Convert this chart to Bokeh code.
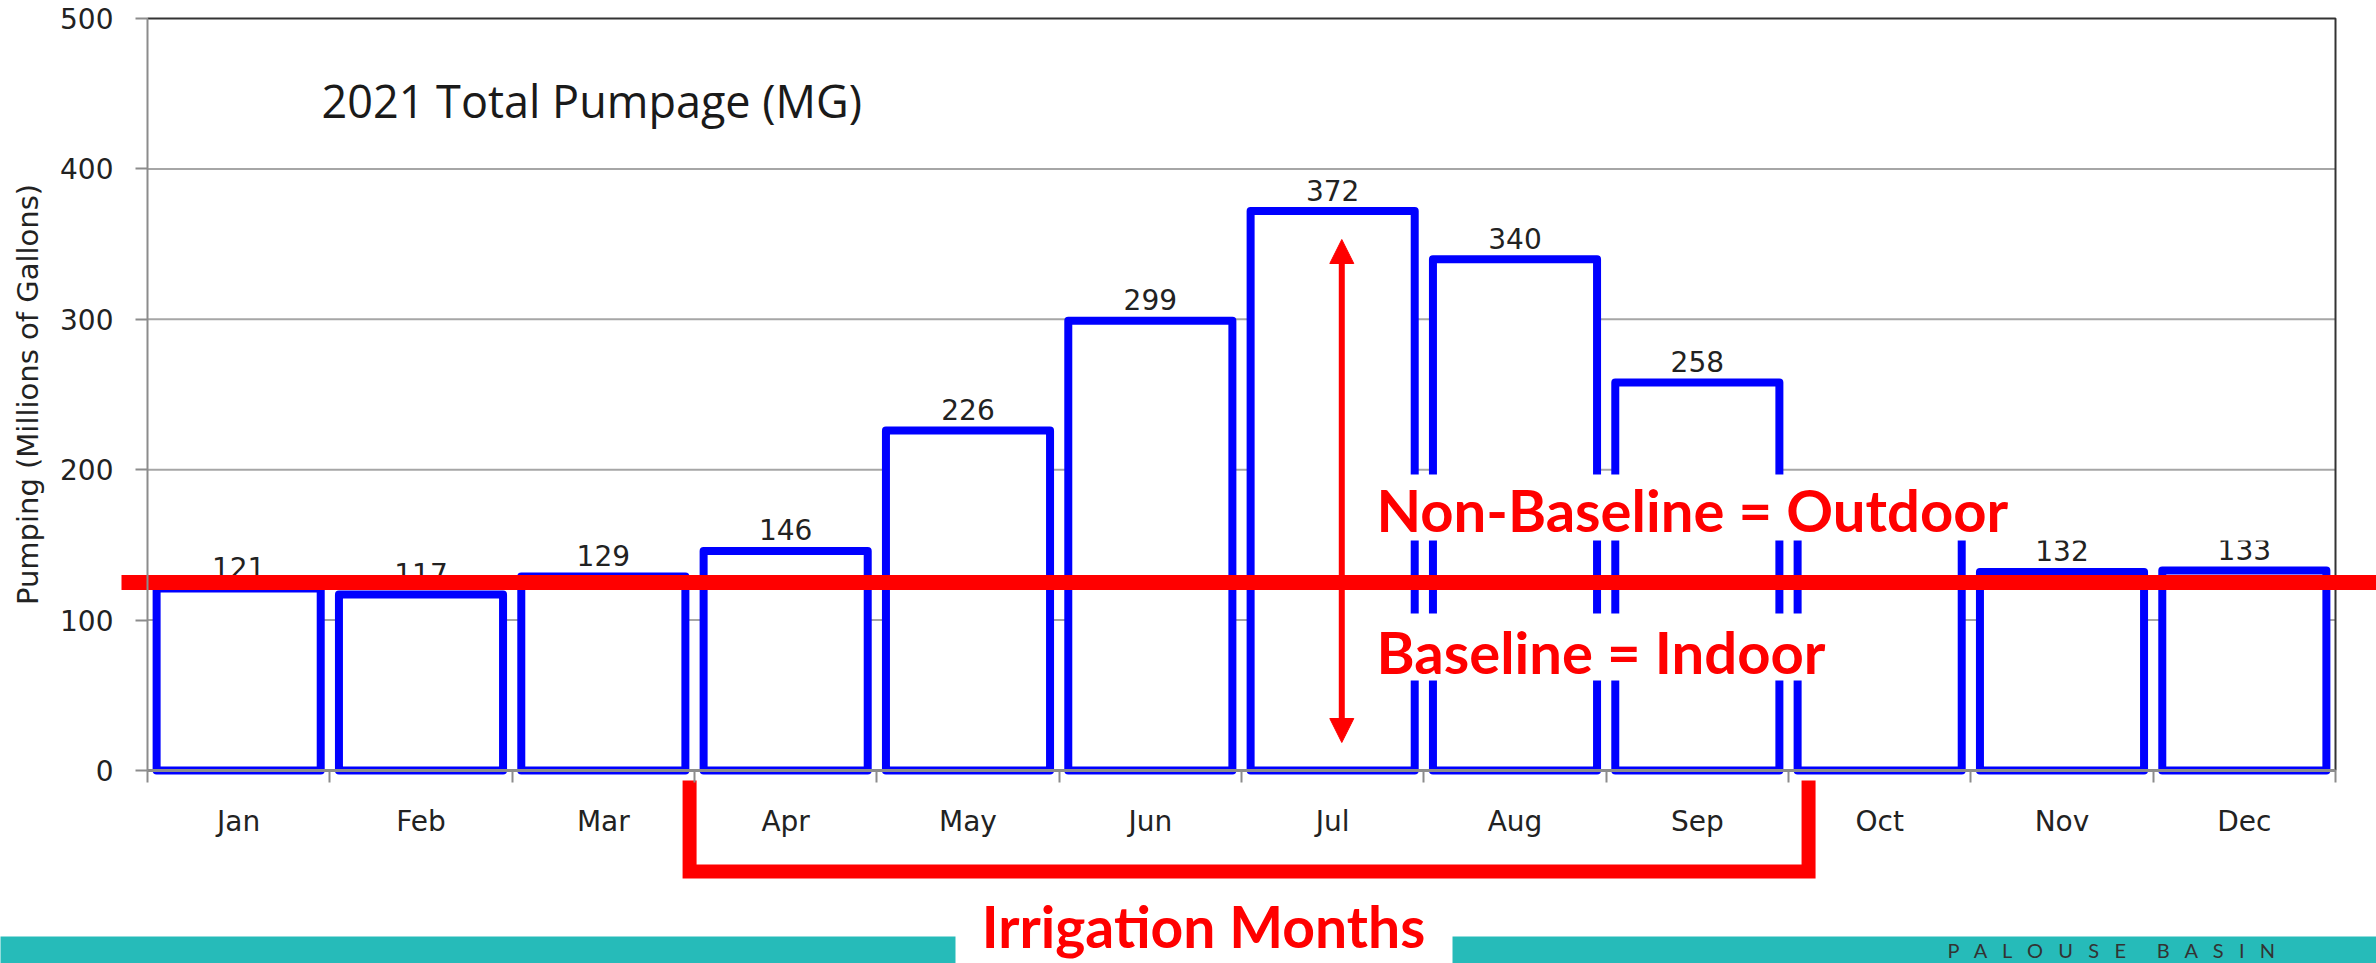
from bokeh.plotting import figure
from bokeh.models import Range1d, LinearAxis, FixedTicker, Label, Arrow, NormalHead
from bokeh.embed import file_html
from bokeh.resources import INLINE
from bokeh.core.properties import value

# ---------------- data ----------------
MONTHS = ["Jan", "Feb", "Mar", "Apr", "May", "Jun", "Jul", "Aug", "Sep", "Oct", "Nov", "Dec"]
PUMPAGE = [121, 117, 129, 146, 226, 299, 372, 340, 258, 165, 132, 133]
Y_TICKS = [0, 100, 200, 300, 400, 500]
TITLE = "2021 Total Pumpage (MG)"
Y_LABEL = "Pumping (Millions of Gallons)"
BASELINE = 125
IRRIGATION = ("Apr", "Sep")
NOTE_OUT = "Non-Baseline = Outdoor"
NOTE_IN = "Baseline = Indoor"
NOTE_IRR = "Irrigation Months"
FOOTER = "PALOUSE BASIN"

# ---------------- layout (pixels) ----------------
W, H = 2376, 963
M = 0
AX_LEFT, AX_RIGHT = 147, 2335
Y0_PX, YTOP_PX = 770, 18
SLOT = (AX_RIGHT - AX_LEFT) / len(MONTHS)
PPU = (Y0_PX - YTOP_PX) / Y_TICKS[-1]


def ux(px):
    return (px - AX_LEFT) / SLOT - 0.5


def vy(py):
    return (Y0_PX - py) / PPU


RED = "#FF0000"
BLUE = "#0000FF"
GRID = "#A6A6A6"
AXIS = "#8C8C8C"
TXT = "#222222"
TEAL = "#26BBB9"

p = figure(width=W, height=H, output_backend="svg", toolbar_location=None,
           x_range=Range1d(ux(M), ux(M + W)), y_range=Range1d(vy(M + H), vy(M)),
           x_axis_type=None, y_axis_type=None, min_border=0)
p.outline_line_color = None
p.background_fill_color = "white"
p.border_fill_color = "white"

n = len(MONTHS)
xs = list(range(n))
xmin, xmax = -0.5, n - 0.5

# footer strip
p.quad(left=ux(-50), right=ux(2500), bottom=vy(1100), top=vy(936),
       fill_color=TEAL, line_color=None)

# gridlines
gy = Y_TICKS[1:-1]
p.segment(x0=[xmin] * len(gy), x1=[xmax] * len(gy), y0=gy, y1=gy,
          line_color=GRID, line_width=2)

# bars
p.vbar(x=xs, top=PUMPAGE, bottom=0, width=0.9, fill_color="white",
       line_color=BLUE, line_width=8, line_join="round")

# value labels
p.text(x=xs, y=PUMPAGE, text=[str(v) for v in PUMPAGE], text_align="center",
       text_baseline="alphabetic", y_offset=-21, text_font=value("DejaVu Sans"),
       text_font_size="28px", text_color=TXT)

# top & right frame border
p.line(x=[xmin, xmax, xmax], y=[Y_TICKS[-1], Y_TICKS[-1], 0],
       line_color="#333333", line_width=2)

# white text boxes
p.quad(left=[ux(1368), ux(1368), ux(955)],
       right=[ux(2300), ux(1860), ux(1452)],
       bottom=[vy(540), vy(680), vy(990)],
       top=[vy(474), vy(613), vy(900)],
       fill_color="white", line_color=None)

# baseline
p.segment(x0=[ux(121)], x1=[ux(2376)], y0=[BASELINE], y1=[BASELINE],
          line_color=RED, line_width=15)

# irrigation bracket
i0 = MONTHS.index(IRRIGATION[0]) - 0.527
i1 = MONTHS.index(IRRIGATION[1]) + 0.61
p.line(x=[i0, i0, i1, i1], y=[vy(780), vy(871), vy(871), vy(780)],
       line_color=RED, line_width=14, line_join="miter")

# arrow
ax_ = MONTHS.index("Jul") + 0.05
p.add_layout(Arrow(x_start=ax_, y_start=vy(742), x_end=ax_, y_end=vy(239),
                   line_color=RED, line_width=6,
                   start=NormalHead(size=24, fill_color=RED, line_color=RED),
                   end=NormalHead(size=24, fill_color=RED, line_color=RED)))

# axes
yaxis = LinearAxis(fixed_location=xmin, ticker=FixedTicker(ticks=Y_TICKS),
                   bounds=(Y_TICKS[0], Y_TICKS[-1]),
                   axis_label=Y_LABEL, axis_label_text_font="DejaVu Sans",
                   axis_label_text_font_size="29px", axis_label_text_font_style="normal",
                   axis_label_text_color=TXT, axis_label_standoff=12,
                   major_label_text_font="DejaVu Sans", major_label_text_font_size="28px",
                   major_label_text_color=TXT, major_label_standoff=22,
                   major_tick_out=12, major_tick_in=0, minor_tick_out=0, minor_tick_in=0,
                   axis_line_color=AXIS, axis_line_width=2,
                   major_tick_line_color=AXIS, major_tick_line_width=2)
p.add_layout(yaxis, "left")

xaxis = LinearAxis(fixed_location=0,
                   ticker=FixedTicker(ticks=xs, minor_ticks=[i - 0.5 for i in range(n + 1)]),
                   bounds=(xmin, xmax),
                   major_label_overrides={i: m for i, m in enumerate(MONTHS)},
                   major_label_text_font="DejaVu Sans", major_label_text_font_size="28px",
                   major_label_text_color=TXT, major_label_standoff=22,
                   major_tick_out=0, major_tick_in=0, minor_tick_out=12, minor_tick_in=0,
                   axis_line_color=AXIS, axis_line_width=3,
                   minor_tick_line_color=AXIS, minor_tick_line_width=2)
p.add_layout(xaxis, "below")

# texts
p.add_layout(Label(x=ux(321), y=vy(100), text=TITLE, text_font="Open Sans",
                   text_font_size="45px", text_color="#1A1A1A", text_baseline="middle"))
for txt, px, py in [(NOTE_OUT, 1376, 509), (NOTE_IN, 1376, 651)]:
    p.add_layout(Label(x=ux(px), y=vy(py), text=txt, text_font="Lato",
                       text_font_style="bold", text_font_size="58px",
                       text_color=RED, text_baseline="middle"))
p.add_layout(Label(x=ux(1203), y=vy(925), text=NOTE_IRR, text_font="Lato",
                   text_font_style="bold", text_font_size="57px", text_color=RED,
                   text_baseline="middle", text_align="center"))
spaced = ("\u00a0" * 6).join("\u00a0\u00a0\u00a0".join(w) for w in FOOTER.split())
p.add_layout(Label(x=ux(1947), y=vy(937), text=spaced, text_font="Lato",
                   text_font_size="20px", text_color="#333333", text_baseline="top"))

open("out.html", "w").write(file_html(p, INLINE))
